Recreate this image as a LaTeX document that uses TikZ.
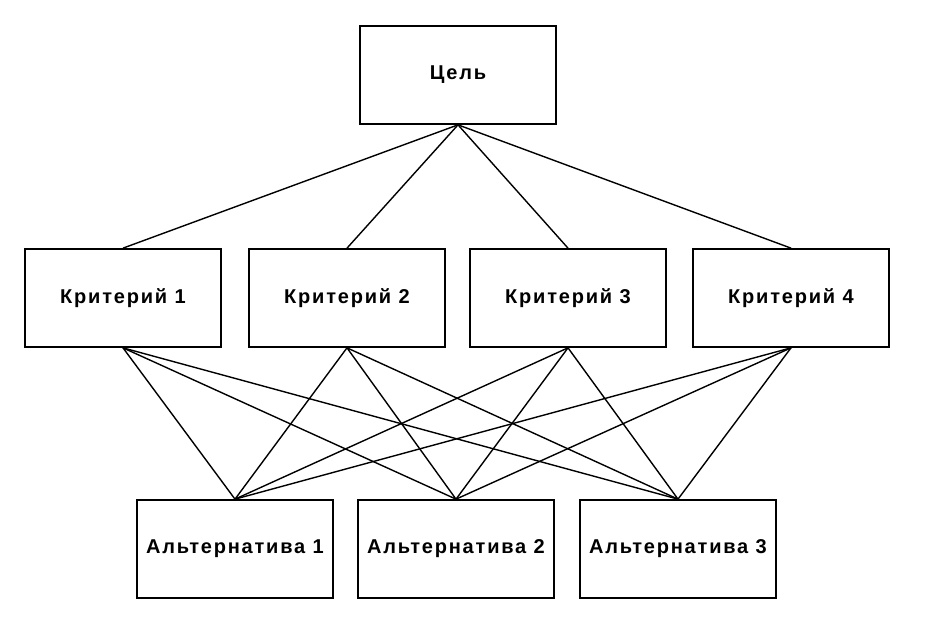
\documentclass[tikz,border=0pt]{standalone}
\usepackage{fontspec}
\setmainfont{Liberation Sans}[LetterSpace=9]
\begin{document}
\begin{tikzpicture}[x=1pt,y=-1pt,
  box/.style={draw=black, line width=1.7pt, fill=white, minimum width=196pt, minimum height=98pt, inner sep=0pt, font=\bfseries\fontsize{20}{23}\selectfont},
  link/.style={draw=black, line width=1.4pt}]
\useasboundingbox[fill=white] (0,0) rectangle (926,636);
\node[box] (goal) at (458,75) {Цель};
\node[box] (c1) at (123,298) {Критерий 1};
\node[box] (c2) at (347,298) {Критерий 2};
\node[box] (c3) at (568,298) {Критерий 3};
\node[box] (c4) at (791,298) {Критерий 4};
\node[box] (a1) at (235,549) {Альтернатива 1};
\node[box] (a2) at (456,549) {Альтернатива 2};
\node[box] (a3) at (678,549) {Альтернатива 3};
\foreach \c in {c1,c2,c3,c4}{
  \draw[link] (goal.south) -- (\c.north);
  \foreach \a in {a1,a2,a3}{
    \draw[link] (\c.south) -- (\a.north);
  }
}
\end{tikzpicture}
\end{document}
